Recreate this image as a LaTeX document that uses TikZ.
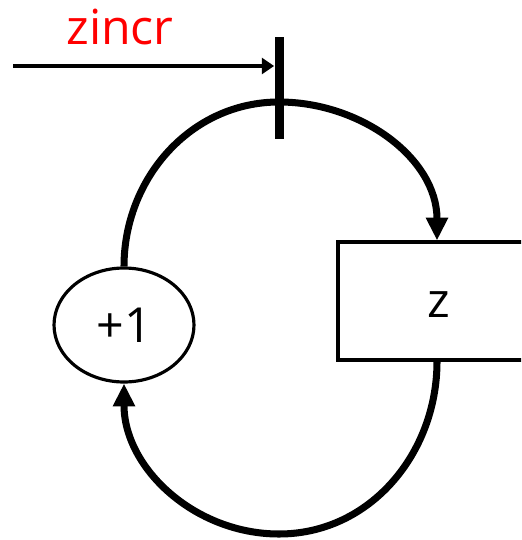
\documentclass[tikz,border=0pt]{standalone}
\usepackage{fontspec}
\setmainfont{Open Sans}
\usetikzlibrary{arrows.meta,shapes.geometric}
\tikzset{
  bigtext/.style={font=\fontsize{27.5}{30}\selectfont},
  loopline/.style={line width=4pt,-{Triangle[length=13pt,width=12pt]}},
  thinbox/.style={draw,line width=1.8pt,inner sep=0pt}
}
\begin{document}
\begin{tikzpicture}[x=0.02cm,y=-0.02cm]
            \useasboundingbox (0,0) rectangle (521,540);
            \clip (0,0) rectangle (521,540);
            \node [bigtext,text=red,anchor=base] (lbl) at (120,45) {zincr};
            \node [fill=black,minimum width=0.18cm,minimum height=2.04cm,inner sep=0pt] (bar) at (279,88) {};
            \node [thinbox,ellipse,minimum width=2.8cm,minimum height=2.28cm] (plus) at (124,325) {};
            \node [bigtext,anchor=base] at (124,342) {+1};
            \node [thinbox,rectangle,minimum width=3.96cm,minimum height=2.36cm] (z) at (437,301) {};
            \node [bigtext,anchor=base] at (439,317) {z};
            \coordinate (start) at (13,66);
            \coordinate (top) at (279,102);
            \coordinate (bottom) at (279,534);
            \draw [line width=2.3pt,-{Triangle[length=7pt,width=9pt]}] (start) -- (start -| bar.west);
            \draw [loopline] (plus.north) to [out=90,in=180] (top) to [out=0,in=90] (z.north);
            \draw [loopline] (z.south) to [out=-90,in=0] (bottom) to [out=180,in=-90] (plus.south);
        \end{tikzpicture}
\end{document}
